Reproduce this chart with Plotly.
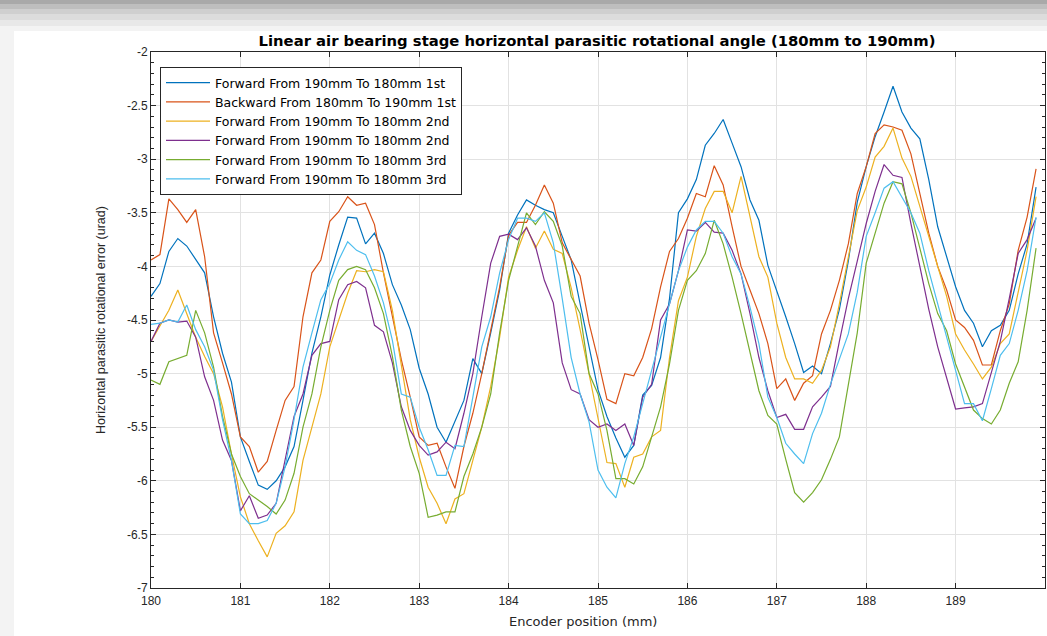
import plotly.graph_objects as go

# Encoder positions (mm), 0.1 mm sampling from 180.0 to 189.9
positions = [round(180 + 0.1 * i, 1) for i in range(100)]

names = [
    "Forward From 190mm To 180mm 1st",
    "Backward From 180mm To 190mm 1st",
    "Forward From 190mm To 180mm 2nd",
    "Forward From 190mm To 180mm 2nd",
    "Forward From 190mm To 180mm 3rd",
    "Forward From 190mm To 180mm 3rd",
]

fwd_1st = [
    -4.28, -4.16, -3.86, -3.74, -3.81, -3.94, -4.06, -4.47, -4.81, -5.08,
    -5.59, -5.82, -6.04, -6.08, -6.00, -5.87, -5.68, -5.25, -4.81, -4.47,
    -4.08, -3.80, -3.54, -3.55, -3.79, -3.69, -3.88, -4.17, -4.36, -4.59,
    -4.95, -5.19, -5.50, -5.64, -5.45, -5.25, -4.86, -5.00, -4.62, -4.22,
    -3.69, -3.52, -3.38, -3.43, -3.47, -3.50, -3.72, -3.94, -4.35, -4.75,
    -5.15, -5.40, -5.60, -5.78, -5.67, -5.20, -5.11, -4.85, -4.30, -3.50,
    -3.37, -3.19, -2.87, -2.76, -2.63, -2.85, -3.07, -3.38, -3.57, -3.99,
    -4.22, -4.47, -4.72, -4.99, -4.93, -5.00, -4.72, -4.40, -3.95, -3.40,
    -3.07, -2.79, -2.56, -2.32, -2.56, -2.71, -2.81, -3.19, -3.63, -3.91,
    -4.19, -4.41, -4.53, -4.75, -4.60, -4.55, -4.41, -4.07, -3.79, -3.26,
]

bwd_1st = [
    -3.94, -3.89, -3.37, -3.47, -3.59, -3.47, -3.91, -4.62, -4.90, -5.19,
    -5.59, -5.68, -5.92, -5.82, -5.53, -5.25, -5.12, -4.47, -4.06, -3.94,
    -3.58, -3.49, -3.35, -3.43, -3.41, -3.61, -4.06, -4.47, -4.87, -5.22,
    -5.59, -5.67, -5.65, -5.87, -6.07, -5.68, -5.37, -5.00, -4.59, -4.19,
    -3.71, -3.59, -3.59, -3.43, -3.24, -3.41, -3.78, -3.94, -4.09, -4.53,
    -4.87, -5.24, -5.28, -5.00, -5.02, -4.85, -4.58, -4.19, -3.86, -3.74,
    -3.55, -3.32, -3.35, -3.06, -3.24, -3.63, -4.00, -4.22, -4.44, -4.72,
    -5.14, -5.05, -5.25, -5.09, -5.02, -4.63, -4.41, -4.13, -3.79, -3.32,
    -3.07, -2.76, -2.68, -2.70, -2.73, -2.95, -3.32, -3.69, -4.00, -4.22,
    -4.50, -4.57, -4.69, -4.92, -4.92, -4.60, -4.35, -3.85, -3.54, -3.09,
]

fwd_2nd_a = [
    -4.70, -4.56, -4.41, -4.22, -4.44, -4.66, -4.84, -5.00, -5.31, -5.75,
    -6.15, -6.40, -6.56, -6.71, -6.49, -6.42, -6.29, -5.81, -5.50, -5.19,
    -4.75, -4.50, -4.25, -4.04, -4.05, -4.03, -4.05, -4.41, -4.94, -5.43,
    -5.78, -6.06, -6.21, -6.40, -6.17, -6.12, -5.81, -5.50, -5.12, -4.66,
    -4.10, -3.85, -3.63, -3.83, -3.67, -3.84, -3.88, -4.20, -4.59, -5.00,
    -5.43, -5.83, -5.84, -6.06, -5.78, -5.75, -5.59, -5.53, -4.85, -4.32,
    -4.10, -3.72, -3.46, -3.30, -3.30, -3.50, -3.16, -3.54, -3.91, -4.10,
    -4.53, -4.85, -5.05, -5.05, -5.09, -4.97, -4.75, -4.35, -3.91, -3.48,
    -3.26, -2.98, -2.88, -2.71, -2.99, -3.16, -3.44, -3.72, -4.00, -4.28,
    -4.63, -4.78, -4.91, -5.05, -4.94, -4.72, -4.63, -4.25, -3.85, -3.35,
]

fwd_2nd_b = [
    -4.70, -4.53, -4.50, -4.52, -4.51, -4.66, -5.03, -5.25, -5.62, -5.81,
    -6.28, -6.14, -6.35, -6.32, -6.21, -5.81, -5.40, -5.19, -4.83, -4.72,
    -4.70, -4.31, -4.17, -4.14, -4.20, -4.55, -4.61, -4.90, -5.31, -5.53,
    -5.67, -5.76, -5.73, -5.64, -5.70, -5.37, -5.00, -4.47, -3.97, -3.72,
    -3.70, -3.75, -3.64, -3.81, -4.13, -4.34, -4.90, -5.15, -5.19, -5.43,
    -5.50, -5.47, -5.53, -5.47, -5.67, -5.22, -5.10, -4.50, -4.35, -4.04,
    -3.66, -3.67, -3.59, -3.68, -3.69, -3.85, -4.07, -4.44, -4.85, -5.16,
    -5.41, -5.38, -5.52, -5.52, -5.31, -5.22, -5.12, -4.70, -4.30, -3.95,
    -3.60, -3.30, -3.05, -3.15, -3.17, -3.60, -4.00, -4.40, -4.75, -5.05,
    -5.33, -5.32, -5.31, -5.28, -5.00, -4.70, -4.30, -3.88, -3.75, -3.55,
]

fwd_3rd_a = [
    -5.06, -5.10, -4.89, -4.86, -4.83, -4.41, -4.62, -4.94, -5.40, -5.75,
    -5.96, -6.12, -6.18, -6.24, -6.31, -6.18, -5.93, -5.50, -5.19, -4.75,
    -4.41, -4.13, -4.03, -4.00, -4.03, -4.20, -4.44, -4.84, -5.34, -5.68,
    -5.93, -6.34, -6.32, -6.29, -6.29, -5.96, -5.75, -5.50, -5.19, -4.62,
    -4.13, -3.81, -3.50, -3.61, -3.49, -3.58, -3.81, -4.28, -4.44, -5.00,
    -5.19, -5.53, -5.98, -5.98, -6.03, -5.87, -5.59, -5.31, -4.91, -4.41,
    -4.13, -4.04, -3.88, -3.57, -3.79, -4.10, -4.44, -4.81, -5.16, -5.39,
    -5.47, -5.80, -6.11, -6.20, -6.11, -5.99, -5.80, -5.59, -5.10, -4.62,
    -3.97, -3.69, -3.41, -3.21, -3.23, -3.50, -3.82, -4.16, -4.44, -4.60,
    -4.91, -5.13, -5.34, -5.42, -5.47, -5.34, -5.09, -4.89, -4.41, -3.83,
]

fwd_3rd_b = [
    -4.54, -4.53, -4.50, -4.52, -4.36, -4.59, -4.75, -4.97, -5.43, -5.81,
    -6.31, -6.40, -6.40, -6.37, -6.21, -5.87, -5.43, -4.94, -4.62, -4.31,
    -4.16, -3.94, -3.77, -3.85, -3.89, -4.09, -4.34, -4.69, -5.19, -5.22,
    -5.50, -5.71, -5.95, -5.95, -5.67, -5.68, -5.22, -4.75, -4.47, -4.06,
    -3.75, -3.55, -3.55, -3.58, -3.50, -3.78, -4.30, -4.85, -5.19, -5.45,
    -5.90, -6.06, -6.16, -5.84, -5.59, -5.28, -4.97, -4.66, -4.35, -4.04,
    -3.82, -3.66, -3.58, -3.58, -3.69, -3.91, -4.07, -4.38, -4.72, -5.22,
    -5.41, -5.65, -5.75, -5.84, -5.56, -5.37, -5.10, -4.87, -4.63, -4.24,
    -3.72, -3.50, -3.27, -3.21, -3.35, -3.50, -3.69, -4.04, -4.35, -4.66,
    -4.97, -5.28, -5.28, -5.44, -5.14, -4.83, -4.72, -4.41, -4.04, -3.54,
]

series = [fwd_1st, bwd_1st, fwd_2nd_a, fwd_2nd_b, fwd_3rd_a, fwd_3rd_b]
colors = ["#0072BD", "#D95319", "#EDB120", "#7E2F8E", "#77AC30", "#4DBEEE"]

x_ticks = [180, 181, 182, 183, 184, 185, 186, 187, 188, 189, 190]
y_ticks = [-2, -2.5, -3, -3.5, -4, -4.5, -5, -5.5, -6, -6.5, -7]
y_tick_text = ["-2", "-2.5", "-3", "-3.5", "-4", "-4.5", "-5", "-5.5", "-6", "-6.5", "-7"]

fig = go.Figure()
for name, vals, col in zip(names, series, colors):
    fig.add_trace(go.Scatter(x=positions, y=vals, mode="lines", name=name,
                             line=dict(color=col, width=1.2)))

W, H = 1047, 636
L, R, T, B = 151, 2, 52, 48
pw, ph = W - L - R, H - T - B

def px(xp):
    return (xp - L) / pw

def py(yp):
    return (H - B - yp) / ph

shapes = []
bands = [(0, 4, "#a9a9a9"), (4, 9, "#bebebe"), (9, 14, "#cfcfcf"),
         (14, 20, "#dcdcdc"), (20, 26, "#e8e8e8"), (26, 31, "#f3f3f3")]
for y0, y1, c in bands:
    shapes.append(dict(type="rect", xref="paper", yref="paper",
                       x0=px(0), x1=px(W), y0=py(y1), y1=py(y0),
                       fillcolor=c, line=dict(width=0), layer="below"))
shapes.append(dict(type="rect", xref="paper", yref="paper",
                   x0=px(0), x1=px(14), y0=py(H), y1=py(31),
                   fillcolor="#f3f3f3", line=dict(width=0), layer="below"))

axis_common = dict(showgrid=True, gridcolor="#e2e2e2", gridwidth=1,
                   showline=True, linecolor="#262626", linewidth=1,
                   mirror="ticks", ticks="inside", ticklen=5,
                   tickcolor="#262626", zeroline=False,
                   tickfont=dict(size=12, color="#262626"))

fig.update_layout(
    width=W, height=H,
    margin=dict(l=L, r=R, t=T, b=B),
    paper_bgcolor="white", plot_bgcolor="white",
    font=dict(family="Liberation Sans, Arial", color="#262626"),
    title=dict(text="<b>Linear air bearing stage horizontal parasitic rotational angle (180mm to 190mm)</b>",
               x=px(597), xref="paper", xanchor="center",
               y=1 - 41 / H, yref="container", yanchor="middle",
               font=dict(family="DejaVu Sans", size=14.8, color="#000000")),
    xaxis=dict(range=[180, 190], tickvals=x_ticks, ticklabelstandoff=2, **axis_common),
    yaxis=dict(range=[-7, -2], tickvals=y_ticks, ticktext=y_tick_text,
               minor=dict(dtick=0.1, tick0=-7, ticks="inside", ticklen=3,
                          tickcolor="#262626", showgrid=False),
               title=dict(text="Horizontal parasitic rotational error (urad)",
                          standoff=18, font=dict(size=12.5, color="#262626")),
               **axis_common),
    legend=dict(x=px(160), y=py(67), xanchor="left", yanchor="top",
                bordercolor="#262626", borderwidth=1, bgcolor="white",
                font=dict(family="DejaVu Sans", size=12.5, color="#000000"),
                tracegroupgap=0, itemwidth=44),
    shapes=shapes,
    annotations=[
        dict(text="Encoder position (mm)", x=px(583), y=py(621),
             xref="paper", yref="paper", showarrow=False,
             xanchor="center", yanchor="middle",
             font=dict(family="DejaVu Sans", size=13, color="#262626")),
    ],
)

fig.write_html("out.html", config={"displayModeBar": False},
               post_script="document.body.style.margin='0';")
